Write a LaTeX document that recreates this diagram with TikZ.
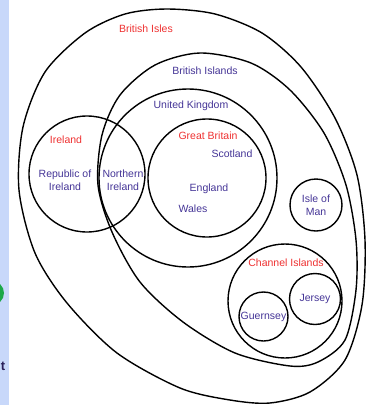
\documentclass[tikz,border=0pt]{standalone}
\usepackage{fontspec}
\setmainfont{Liberation Sans}
\definecolor{geored}{RGB}{238,48,48}
\definecolor{polblue}{RGB}{68,52,150}
\definecolor{pagestrip}{RGB}{200,216,250}
\definecolor{blobgreen}{RGB}{28,168,72}

\begin{document}
\begin{tikzpicture}[x=1pt, y=-1pt]
    % Styles
    \tikzstyle{region}=[draw=black, line width=1.4pt]
    \tikzstyle{isle}=[circle, draw=black, line width=1.4pt, inner sep=0pt, align=center, text=polblue, font=\fontsize{10.5}{13}\selectfont]
    \tikzstyle{geo}=[text=geored, align=center, inner sep=1pt, font=\fontsize{10.5}{13}\selectfont]
    \tikzstyle{pol}=[text=polblue, align=center, inner sep=1pt, font=\fontsize{10.5}{13}\selectfont]

    \useasboundingbox (0,0) rectangle (368,405);

    % Page edge on the left
    \fill[pagestrip] (0,0) rectangle (9,405);
    \fill[blobgreen] (-8,293) circle (12);
    \node[anchor=east, inner sep=0pt, text=polblue!60!black, font=\bfseries\fontsize{13}{14}\selectfont] (cut) at (5.5,366) {t};

    % British Isles and British Islands
    \draw[region] plot[smooth cycle] coordinates {(167,9) (215,14) (262,33) (301,67) (335,118) (357,175) (365,240) (362,305) (345,360) (310,392) (270,403) (230,400) (180,388) (117,353) (67,303) (35,253) (19,190) (23,127) (45,72) (85,33) (125,14)};
    \draw[region] plot[smooth cycle] coordinates {(200,53) (251,63) (290,90) (324,133) (346,185) (356,240) (356,290) (345,340) (318,362) (290,366) (235,353) (183,322) (140,282) (112,232) (98,185) (102,135) (120,95) (155,65)};

    % Circles
    \node[isle, minimum size=178pt] (uk) at (188,178) {};
    \node[isle, minimum size=118pt] (gb) at (207,178) {};
    \node[isle, minimum size=116pt] (ireland) at (87,174) {};
    \node[isle, minimum size=114pt] (ci) at (285,301) {};
    \node[isle, minimum size=52pt] (man) at (316,205) {Isle of\\Man};
    \node[isle, minimum size=51pt] (jersey) at (315,299) {Jersey};
    \node[isle, minimum size=49pt] (guernsey) at (263.5,316.5) {Guernsey};

    % Labels
    \node[geo] (islesl) at (146,29) {British Isles};
    \node[pol] (islandsl) at (205,71) {British Islands};
    \node[pol] (ukl) at (191,106) {United Kingdom};
    \node[geo] (gbl) at (208,136) {Great Britain};
    \node[pol] (scot) at (232,154) {Scotland};
    \node[pol] (eng) at (209,189) {England};
    \node[pol] (wal) at (193,209) {Wales};
    \node[geo] (irl) at (66,140) {Ireland};
    \node[pol] (roi) at (65,180) {Republic of\\Ireland};
    \node[pol] (ni) at (123,180) {Northern\\Ireland};
    \node[geo] (cil) at (286,263) {Channel Islands};
\end{tikzpicture}
\end{document}
